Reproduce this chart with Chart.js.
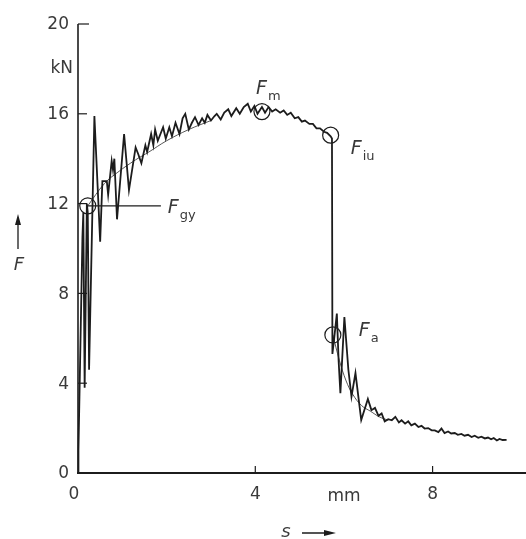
<!DOCTYPE html>
<html>
<head>
<meta charset="utf-8">
<style>
  html, body { margin: 0; padding: 0; background: #fff; }
  #wrap { width: 526px; height: 539px; }
</style>
<script src="https://cdn.jsdelivr.net/npm/chart.js@4.4.1/dist/chart.umd.min.js"></script>
</head>
<body>
<div id="wrap"><canvas id="chart" width="526" height="539"></canvas></div>
<script>
// ---------------- Data (s in mm, F in kN) ----------------
const sRaw = [0.00, 0.01, 0.10, 0.12, 0.15, 0.20, 0.22, 0.25, 0.37, 0.50, 0.55, 0.65, 0.68, 0.76, 0.79, 0.82, 0.88, 1.04, 1.15, 1.30,
  1.36, 1.43, 1.52, 1.56, 1.65, 1.70, 1.74, 1.80, 1.92, 1.98, 2.06, 2.12, 2.20, 2.29, 2.36, 2.42, 2.50, 2.57, 2.64, 2.72,
  2.80, 2.86, 2.92, 3.00, 3.08, 3.13, 3.22, 3.30, 3.39, 3.46, 3.57, 3.65, 3.74, 3.83, 3.90, 3.98, 4.05, 4.15, 4.22, 4.30,
  4.38, 4.46, 4.56, 4.64, 4.72, 4.80, 4.89, 4.97, 5.05, 5.12, 5.22, 5.30, 5.38, 5.46, 5.55, 5.62, 5.70, 5.73, 5.74, 5.78,
  5.84, 5.88, 5.92, 6.01, 6.10, 6.17, 6.26, 6.39, 6.54, 6.62, 6.70, 6.78, 6.85, 6.92, 7.00, 7.08, 7.16, 7.24, 7.30, 7.38,
  7.45, 7.52, 7.60, 7.68, 7.75, 7.82, 7.90, 7.98, 8.05, 8.13, 8.20, 8.27, 8.35, 8.42, 8.50, 8.57, 8.65, 8.72, 8.80, 8.88,
  8.95, 9.03, 9.10, 9.18, 9.25, 9.32, 9.38, 9.45, 9.51, 9.58, 9.67];
const fRaw = [0.0, 1.0, 10.5, 11.6, 3.8, 12.0, 11.6, 4.6, 15.9, 10.3, 13.0, 13.0, 12.4, 13.9, 13.5, 14.0, 11.3, 15.1, 12.6, 14.5,
  14.2, 13.8, 14.6, 14.3, 15.1, 14.6, 15.3, 14.8, 15.4, 14.9, 15.4, 15.0, 15.6, 15.1, 15.8, 16.0, 15.3, 15.6, 15.85, 15.5,
  15.8, 15.6, 15.95, 15.7, 15.9, 16.0, 15.75, 16.05, 16.2, 15.9, 16.25, 16.0, 16.3, 16.45, 16.1, 16.35, 16.0, 16.3, 16.05, 16.3,
  16.1, 16.2, 16.05, 16.15, 15.95, 16.05, 15.8, 15.85, 15.65, 15.7, 15.55, 15.55, 15.35, 15.35, 15.2, 15.15, 15.0, 14.9, 5.3, 6.0,
  7.1, 5.0, 3.55, 6.95, 4.6, 3.4, 4.45, 2.36, 3.3, 2.8, 2.9, 2.55, 2.65, 2.3, 2.4, 2.35, 2.5, 2.25, 2.35, 2.2,
  2.3, 2.12, 2.2, 2.05, 2.1, 1.98, 2.0, 1.9, 1.9, 1.82, 1.98, 1.78, 1.85, 1.76, 1.78, 1.7, 1.74, 1.66, 1.7, 1.6,
  1.66, 1.57, 1.62, 1.54, 1.58, 1.5, 1.56, 1.45, 1.52, 1.47, 1.48];

// thin smoothed curves drawn through the oscillations
const sFitUp = [0.22, 0.60, 0.90, 1.30, 1.60, 2.00, 2.50, 3.00];
const fFitUp = [11.9, 12.9, 13.4, 13.95, 14.3, 14.8, 15.3, 15.7];
const sFitDown = [5.75, 5.90, 6.05, 6.20, 6.40, 6.60, 6.80, 7.00];
const fFitDown = [6.15, 5.0, 4.1, 3.5, 3.0, 2.75, 2.5, 2.35];

// characteristic points
const markNames = ["gy", "m", "iu", "a"];
const markS = [0.22, 4.15, 5.70, 5.75];
const markF = [11.9, 16.1, 15.05, 6.15];

// axes
const yTicks = [0, 4, 8, 12, 16, 20];
const yUnit = { value: 18, text: "kN" };
const xTicks = [0, 4, 8];
const xMarks = [4, 8];
const xUnit = { value: 6, text: "mm" };
const xMax = 9.9, yMax = 20;

const toXY = (xs, ys) => xs.map((x, i) => ({ x, y: ys[i] }));
const ink = "#1c1c1c";
const textInk = "#3a3a3a";

// ---------------- Axes + labels plugin ----------------
const drawAxes = {
  id: "drawAxes",
  beforeDatasetsDraw(chart) {
    const { ctx, scales: { x, y } } = chart;
    const x0 = x.getPixelForValue(0), y0 = y.getPixelForValue(0);
    ctx.save();
    ctx.strokeStyle = ink;
    ctx.lineWidth = 1.6;
    ctx.beginPath();
    ctx.moveTo(x0, y.getPixelForValue(yMax));
    ctx.lineTo(x0, y0);
    ctx.stroke();
    ctx.lineWidth = 2;
    ctx.beginPath();
    ctx.moveTo(x0 - 1, y0);
    ctx.lineTo(chart.width, y0);
    ctx.stroke();

    ctx.lineWidth = 1.2;
    yTicks.forEach(v => {
      if (v === 0) return;
      const py = y.getPixelForValue(v);
      ctx.beginPath();
      ctx.moveTo(x0, py);
      ctx.lineTo(x0 + (v === yMax ? 11 : 9), py);
      ctx.stroke();
    });
    xMarks.forEach(v => {
      const px = x.getPixelForValue(v);
      ctx.beginPath();
      ctx.moveTo(px, y0);
      ctx.lineTo(px, y0 - 7);
      ctx.stroke();
    });

    ctx.fillStyle = textInk;
    ctx.font = "17px 'DejaVu Sans'";
    ctx.textAlign = "right";
    ctx.textBaseline = "middle";
    yTicks.forEach(v => ctx.fillText(String(v), x0 - 9, y.getPixelForValue(v) + 1));
    ctx.fillText(yUnit.text, x0 - 5, y.getPixelForValue(yUnit.value));
    ctx.textAlign = "center";
    xTicks.forEach(v => ctx.fillText(String(v), x.getPixelForValue(v) - (v === 0 ? 4 : 0), y0 + 22));
    ctx.fillText(xUnit.text, x.getPixelForValue(xUnit.value), y0 + 24);

    // axis titles with arrows
    ctx.font = "italic 18px 'DejaVu Sans'";
    ctx.fillText("F", 19, 265);
    ctx.fillText("s", 286, 532);
    ctx.lineWidth = 1.3;
    ctx.beginPath();
    ctx.moveTo(18, 249); ctx.lineTo(18, 222);
    ctx.moveTo(302, 533); ctx.lineTo(326, 533);
    ctx.stroke();
    ctx.beginPath();
    ctx.moveTo(18, 214); ctx.lineTo(15, 225); ctx.lineTo(21, 225); ctx.closePath();
    ctx.moveTo(336, 533); ctx.lineTo(324, 530); ctx.lineTo(324, 536); ctx.closePath();
    ctx.fillStyle = ink;
    ctx.fill();
    ctx.restore();
  },
  afterDatasetsDraw(chart) {
    const { ctx, scales: { x, y } } = chart;
    const pos = i => [x.getPixelForValue(markS[i]), y.getPixelForValue(markF[i])];
    ctx.save();
    // F_gy reference line
    const [gx, gy] = pos(0);
    ctx.strokeStyle = ink;
    ctx.lineWidth = 1.2;
    ctx.beginPath();
    ctx.moveTo(gx, gy);
    ctx.lineTo(x.getPixelForValue(1.87), gy);
    ctx.stroke();

    const label = (sub, px, py) => {
      ctx.fillStyle = textInk;
      ctx.textAlign = "left";
      ctx.textBaseline = "alphabetic";
      ctx.font = "italic 19px 'DejaVu Sans'";
      ctx.fillText("F", px, py);
      ctx.font = "13px 'DejaVu Sans'";
      ctx.fillText(sub, px + 12, py + 6);
    };
    const offsets = [[80, 7], [-6, -18], [20, 19], [26, 1]];
    markNames.forEach((n, i) => {
      const [px, py] = pos(i);
      const [dx, dy] = offsets[i];
      label(n, px + dx, py + dy);
    });
    ctx.restore();
  }
};

new Chart(document.getElementById("chart"), {
  type: "scatter",
  data: {
    datasets: [
      { data: toXY(sRaw, fRaw), showLine: true, borderColor: ink, borderWidth: 1.8, pointRadius: 0, tension: 0, clip: false },
      { data: toXY(sFitUp, fFitUp), showLine: true, borderColor: "#444", borderWidth: 0.9, pointRadius: 0, tension: 0.4, clip: false },
      { data: toXY(sFitDown, fFitDown), showLine: true, borderColor: "#444", borderWidth: 0.9, pointRadius: 0, tension: 0.4, clip: false },
      { data: toXY(markS, markF), showLine: false, pointRadius: 8, pointStyle: "circle", borderColor: ink, borderWidth: 1.2, backgroundColor: "rgba(0,0,0,0)", clip: false }
    ]
  },
  options: {
    responsive: false,
    animation: false,
    layout: { padding: { left: 78, top: 24, right: 0, bottom: 66 } },
    plugins: { legend: { display: false }, tooltip: { enabled: false } },
    scales: {
      x: { type: "linear", min: 0, max: xMax, display: false },
      y: { type: "linear", min: 0, max: yMax, display: false }
    }
  },
  plugins: [drawAxes]
});
</script>
</body>
</html>
